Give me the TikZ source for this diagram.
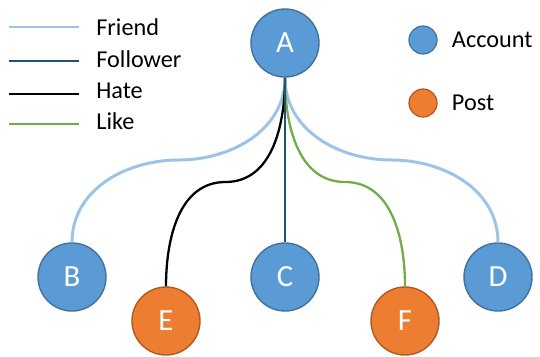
\documentclass[tikz,border=0pt]{standalone}
\usepackage{fontspec}
\setmainfont{Carlito}
\usepackage{tikz}
\usetikzlibrary{positioning,calc}
\definecolor{accountfill}{HTML}{5B9BD5}
\definecolor{accountdraw}{HTML}{41719C}
\definecolor{postfill}{HTML}{ED7D31}
\definecolor{postdraw}{HTML}{AE5A21}
\definecolor{friendc}{HTML}{9DC3E6}
\definecolor{followerc}{HTML}{264F78}
\definecolor{likec}{HTML}{70AD47}
\tikzset{
    account/.style={draw=accountdraw, fill=accountfill, circle, line width=0.8pt, minimum size=1.36cm,
                    inner sep=0pt, text=white, font=\fontsize{17.5}{20}\selectfont},
    post/.style={account, draw=postdraw, fill=postfill},
    keyAccount/.style={draw=accountdraw, fill=accountfill, circle, line width=0.7pt, minimum size=0.56cm, inner sep=0pt},
    keyPost/.style={keyAccount, draw=postdraw, fill=postfill},
    friend/.style={draw=friendc, line width=1.7pt},
    follower/.style={draw=followerc, line width=1.3pt},
    hate/.style={draw=black, line width=1.3pt},
    like/.style={draw=likec, line width=1.3pt},
    key/.style={anchor=west, inner sep=0pt, font=\fontsize{13.8}{16}\selectfont},
}
\begin{document}
\begin{tikzpicture}[scale=1]
    \useasboundingbox (0,0) rectangle (10.8,7.12);

    % Accounts and posts
    \node[account] (A) at (5.70, 6.26) {A};
    \node[account] (B) at (1.44, 1.58) {B};
    \node[account] (C) at (5.70, 1.58) {C};
    \node[account] (D) at (9.96, 1.58) {D};
    \node[post] (E) at (3.32, 0.70) {E};
    \node[post] (F) at (8.10, 0.70) {F};

    % Bends of the edges
    \coordinate (mB) at (3.57, 3.92);
    \coordinate (mE) at (4.51, 3.48);
    \coordinate (mF) at (6.90, 3.48);
    \coordinate (mD) at (7.83, 3.92);

    % Edges
    \draw[friend] (A.south) to[out=-90, in=0] (mB) to[out=180, in=90] (B.north);
    \draw[friend] (A.south) to[out=-90, in=180] (mD) to[out=0, in=90] (D.north);
    \draw[hate] (A.south) to[out=-90, in=0] (mE) to[out=180, in=90] (E.north);
    \draw[like] (A.south) to[out=-90, in=180] (mF) to[out=0, in=90] (F.north);
    \draw[follower] (A.south) -- (C.north);

    % Legend of edges
    \node[key] (kFriend) at (1.92, 6.58) {Friend};
    \node[key] (kFollower) at (1.92, 5.94) {Follower};
    \node[key] (kHate) at (1.92, 5.30) {Hate};
    \node[key] (kLike) at (1.92, 4.70) {Like};
    \draw[friend] ([xshift=-1.74cm]kFriend.west) -- ([xshift=-0.34cm]kFriend.west);
    \draw[follower] ([xshift=-1.74cm, yshift=-0.04cm]kFollower.west) -- ([xshift=-0.34cm, yshift=-0.04cm]kFollower.west);
    \draw[hate] ([xshift=-1.74cm, yshift=-0.06cm]kHate.west) -- ([xshift=-0.34cm, yshift=-0.06cm]kHate.west);
    \draw[like] ([xshift=-1.74cm, yshift=-0.06cm]kLike.west) -- ([xshift=-0.34cm, yshift=-0.06cm]kLike.west);

    % Legend of nodes
    \node[keyAccount] (kA) at (8.46, 6.32) {};
    \node[key, right=0.28cm of kA] {Account};
    \node[keyPost] (kP) at (8.46, 5.06) {};
    \node[key, right=0.28cm of kP] {Post};
\end{tikzpicture}
\end{document}
